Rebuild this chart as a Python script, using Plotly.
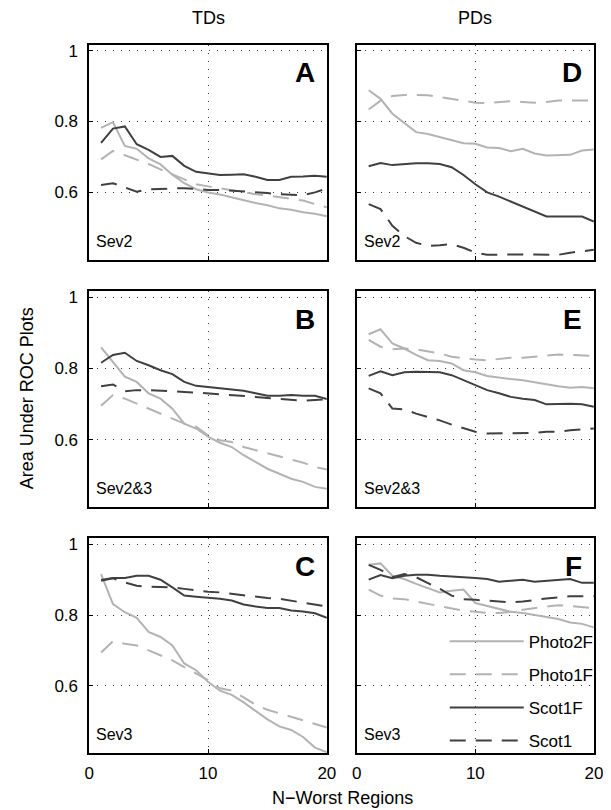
import plotly.graph_objects as go

N = list(range(1, 21))
series_names = ["Photo2F", "Photo1F", "Scot1F", "Scot1"]

# Panel A: TDs Sev2
A_Photo2F = [0.782, 0.798, 0.731, 0.723, 0.696, 0.679, 0.650, 0.626, 0.609, 0.600, 0.594, 0.586, 0.577, 0.570, 0.564, 0.555, 0.551, 0.544, 0.540, 0.533]
A_Photo1F = [0.693, 0.717, 0.705, 0.693, 0.680, 0.665, 0.651, 0.637, 0.623, 0.617, 0.611, 0.605, 0.600, 0.595, 0.591, 0.586, 0.581, 0.577, 0.567, 0.558]
A_Scot1F = [0.740, 0.780, 0.786, 0.736, 0.720, 0.700, 0.703, 0.675, 0.658, 0.654, 0.649, 0.650, 0.651, 0.644, 0.635, 0.635, 0.644, 0.645, 0.647, 0.644]
A_Scot1 = [0.621, 0.626, 0.614, 0.602, 0.609, 0.609, 0.611, 0.612, 0.609, 0.607, 0.607, 0.605, 0.603, 0.602, 0.598, 0.595, 0.593, 0.592, 0.600, 0.611]

# Panel B: TDs Sev2&3
B_Photo2F = [0.859, 0.819, 0.777, 0.762, 0.730, 0.715, 0.687, 0.645, 0.631, 0.608, 0.591, 0.579, 0.556, 0.537, 0.518, 0.504, 0.490, 0.481, 0.467, 0.462]
B_Photo1F = [0.695, 0.725, 0.715, 0.701, 0.687, 0.673, 0.659, 0.645, 0.636, 0.612, 0.598, 0.593, 0.579, 0.570, 0.561, 0.551, 0.542, 0.535, 0.523, 0.516]
B_Scot1F = [0.816, 0.838, 0.844, 0.821, 0.809, 0.795, 0.784, 0.762, 0.751, 0.748, 0.744, 0.742, 0.737, 0.730, 0.723, 0.723, 0.725, 0.723, 0.723, 0.714]
B_Scot1 = [0.750, 0.755, 0.736, 0.739, 0.739, 0.738, 0.736, 0.734, 0.732, 0.730, 0.727, 0.725, 0.723, 0.720, 0.717, 0.715, 0.713, 0.709, 0.711, 0.713]

# Panel C: TDs Sev3
C_Photo2F = [0.916, 0.831, 0.808, 0.792, 0.752, 0.738, 0.714, 0.663, 0.644, 0.611, 0.586, 0.574, 0.553, 0.530, 0.505, 0.485, 0.475, 0.455, 0.425, 0.412]
C_Photo1F = [0.694, 0.726, 0.719, 0.714, 0.700, 0.686, 0.672, 0.653, 0.635, 0.616, 0.593, 0.586, 0.567, 0.546, 0.532, 0.522, 0.510, 0.500, 0.490, 0.482]
C_Scot1F = [0.899, 0.905, 0.905, 0.911, 0.911, 0.900, 0.878, 0.855, 0.852, 0.850, 0.846, 0.841, 0.830, 0.824, 0.820, 0.820, 0.813, 0.810, 0.805, 0.792]
C_Scot1 = [0.897, 0.904, 0.892, 0.883, 0.880, 0.880, 0.878, 0.874, 0.869, 0.866, 0.864, 0.860, 0.855, 0.850, 0.848, 0.846, 0.841, 0.836, 0.831, 0.824]

# Panel D: PDs Sev2
D_Photo2F = [0.888, 0.864, 0.822, 0.796, 0.770, 0.765, 0.756, 0.746, 0.739, 0.737, 0.727, 0.725, 0.716, 0.723, 0.710, 0.704, 0.704, 0.706, 0.718, 0.721]
D_Photo1F = [0.834, 0.859, 0.872, 0.875, 0.875, 0.874, 0.869, 0.864, 0.859, 0.853, 0.852, 0.855, 0.857, 0.855, 0.853, 0.855, 0.859, 0.859, 0.859, 0.859]
D_Scot1F = [0.674, 0.683, 0.677, 0.680, 0.682, 0.682, 0.680, 0.671, 0.649, 0.623, 0.600, 0.588, 0.574, 0.560, 0.548, 0.532, 0.532, 0.532, 0.532, 0.518]
D_Scot1 = [0.567, 0.553, 0.506, 0.477, 0.458, 0.449, 0.451, 0.454, 0.444, 0.430, 0.424, 0.425, 0.425, 0.425, 0.425, 0.425, 0.424, 0.430, 0.435, 0.438]

# Panel E: PDs Sev2&3
E_Photo2F = [0.896, 0.910, 0.870, 0.856, 0.838, 0.823, 0.821, 0.814, 0.795, 0.789, 0.779, 0.774, 0.770, 0.767, 0.761, 0.756, 0.750, 0.746, 0.748, 0.744]
E_Photo1F = [0.880, 0.861, 0.854, 0.856, 0.854, 0.849, 0.842, 0.833, 0.828, 0.825, 0.823, 0.826, 0.830, 0.830, 0.833, 0.836, 0.839, 0.838, 0.836, 0.835]
E_Scot1F = [0.779, 0.792, 0.781, 0.789, 0.791, 0.791, 0.789, 0.781, 0.767, 0.753, 0.739, 0.730, 0.720, 0.715, 0.711, 0.699, 0.700, 0.701, 0.699, 0.692]
E_Scot1 = [0.744, 0.730, 0.687, 0.685, 0.673, 0.664, 0.654, 0.642, 0.631, 0.622, 0.617, 0.617, 0.617, 0.617, 0.619, 0.622, 0.622, 0.626, 0.628, 0.631]

# Panel F: PDs Sev3
F_Photo2F = [0.942, 0.946, 0.911, 0.902, 0.888, 0.875, 0.864, 0.869, 0.872, 0.834, 0.826, 0.817, 0.809, 0.806, 0.800, 0.796, 0.789, 0.779, 0.775, 0.765]
F_Photo1F = [0.872, 0.855, 0.847, 0.845, 0.838, 0.831, 0.826, 0.819, 0.812, 0.809, 0.806, 0.806, 0.809, 0.815, 0.819, 0.824, 0.828, 0.826, 0.822, 0.819]
F_Scot1F = [0.900, 0.913, 0.904, 0.911, 0.914, 0.914, 0.911, 0.909, 0.909, 0.905, 0.902, 0.894, 0.897, 0.900, 0.894, 0.897, 0.900, 0.902, 0.891, 0.891]
F_Scot1 = [0.942, 0.928, 0.907, 0.916, 0.907, 0.891, 0.874, 0.855, 0.845, 0.843, 0.841, 0.838, 0.836, 0.838, 0.843, 0.847, 0.850, 0.853, 0.853, 0.853]

panel_letters = ["A", "B", "C", "D", "E", "F"]
panel_sev = ["Sev2", "Sev2&3", "Sev3", "Sev2", "Sev2&3", "Sev3"]
panel_data = [
    [A_Photo2F, A_Photo1F, A_Scot1F, A_Scot1],
    [B_Photo2F, B_Photo1F, B_Scot1F, B_Scot1],
    [C_Photo2F, C_Photo1F, C_Scot1F, C_Scot1],
    [D_Photo2F, D_Photo1F, D_Scot1F, D_Scot1],
    [E_Photo2F, E_Photo1F, E_Scot1F, E_Scot1],
    [F_Photo2F, F_Photo1F, F_Scot1F, F_Scot1],
]
column_titles = ["TDs", "PDs"]
x_ticks = [0, 10, 20]
y_ticks = [0.6, 0.8, 1.0]
y_ticklabels = ["0.6", "0.8", "1"]

LIGHT = "#b3b3b3"
DARK = "#404040"
DASH = "16px,10px"
styles = {
    "Photo2F": dict(color=LIGHT, dash="solid"),
    "Photo1F": dict(color=LIGHT, dash=DASH),
    "Scot1F": dict(color=DARK, dash="solid"),
    "Scot1": dict(color=DARK, dash=DASH),
}

# the page body has an 8px margin: lay out in a figure that is 8px smaller
OFF = 8
W, H = 611 - OFF, 810 - OFF


def px(v):
    return v - OFF


col_px = [(px(86), px(329.3)), (px(360), px(602.7))]
row_px = [(px(41.7), px(257.7)), (px(289.3), px(506)), (px(537.3), px(752.7))]
FONT = "Liberation Sans, Arial, Helvetica, sans-serif"

fig = go.Figure()
layout = dict(
    width=W, height=H, margin=dict(l=0, r=0, t=0, b=0),
    paper_bgcolor="white", plot_bgcolor="white",
    font=dict(family=FONT, size=17, color="black"),
    showlegend=True,
)
annotations = []
for p in range(6):
    col, row = divmod(p, 3)
    ax = p + 1
    xa = "xaxis" if ax == 1 else f"xaxis{ax}"
    ya = "yaxis" if ax == 1 else f"yaxis{ax}"
    xr = "x" if ax == 1 else f"x{ax}"
    yr = "y" if ax == 1 else f"y{ax}"
    x0, x1 = col_px[col]
    t, b = row_px[row]
    common = dict(showline=True, linecolor="black", linewidth=1.5, mirror=True,
                  showgrid=True, gridcolor="#333333", gridwidth=1, griddash="1px,7px",
                  zeroline=False, ticks="inside", ticklen=4, tickcolor="black",
                  tickfont=dict(size=17, family=FONT))
    layout[xa] = dict(domain=[x0 / W, x1 / W], range=[0, 20], tickvals=x_ticks,
                      ticktext=[str(v) for v in x_ticks], showticklabels=(row == 2),
                      anchor=yr, ticklabelstandoff=4, **common)
    layout[ya] = dict(domain=[1 - b / H, 1 - t / H], range=[0.41, 1.017], tickvals=y_ticks,
                      ticktext=y_ticklabels, showticklabels=(col == 0),
                      anchor=xr, ticklabelstandoff=6, **common)
    for name, vals in zip(series_names, panel_data[p]):
        st = styles[name]
        fig.add_trace(go.Scatter(
            x=N, y=vals, mode="lines", name=name, xaxis=xr, yaxis=yr,
            line=dict(color=st["color"], dash=st["dash"], width=2),
            showlegend=(p == 5), legendgroup=name,
        ))
    annotations.append(dict(text=f"<b>{panel_letters[p]}</b>", xref=f"{xr} domain", yref=f"{yr} domain",
                            x=0.96, y=0.87, xanchor="right", yanchor="middle", showarrow=False,
                            font=dict(size=28, family=FONT, color="black")))
    annotations.append(dict(text=panel_sev[p], xref=f"{xr} domain", yref=f"{yr} domain",
                            x=0.022, y=0.085, xanchor="left", yanchor="middle", showarrow=False,
                            font=dict(size=16, family=FONT, color="black")))

for col, title in enumerate(column_titles):
    x0, x1 = col_px[col]
    annotations.append(dict(text=title, xref="paper", yref="paper", x=(x0 + x1) / 2 / W, y=1 - px(15) / H,
                            xanchor="center", yanchor="middle", showarrow=False,
                            font=dict(size=18, family=FONT)))
annotations.append(dict(text="Area Under ROC Plots", xref="paper", yref="paper", x=px(22) / W,
                        y=1 - px(397) / H, xanchor="center", yanchor="middle", textangle=-90,
                        showarrow=False, font=dict(size=18, family=FONT)))
annotations.append(dict(text="N\u2212Worst Regions", xref="paper", yref="paper", x=px(345) / W,
                        y=1 - px(798) / H, xanchor="center", yanchor="middle", showarrow=False,
                        font=dict(size=18, family=FONT)))
layout["annotations"] = annotations
layout["legend"] = dict(x=px(450) / W, y=1 - px(623) / H, xanchor="left", yanchor="top",
                        bgcolor="rgba(0,0,0,0)", borderwidth=0, itemwidth=74,
                        tracegroupgap=8, font=dict(size=17, family=FONT),
                        traceorder="grouped")
fig.update_layout(**layout)
fig.write_html("out.html")
